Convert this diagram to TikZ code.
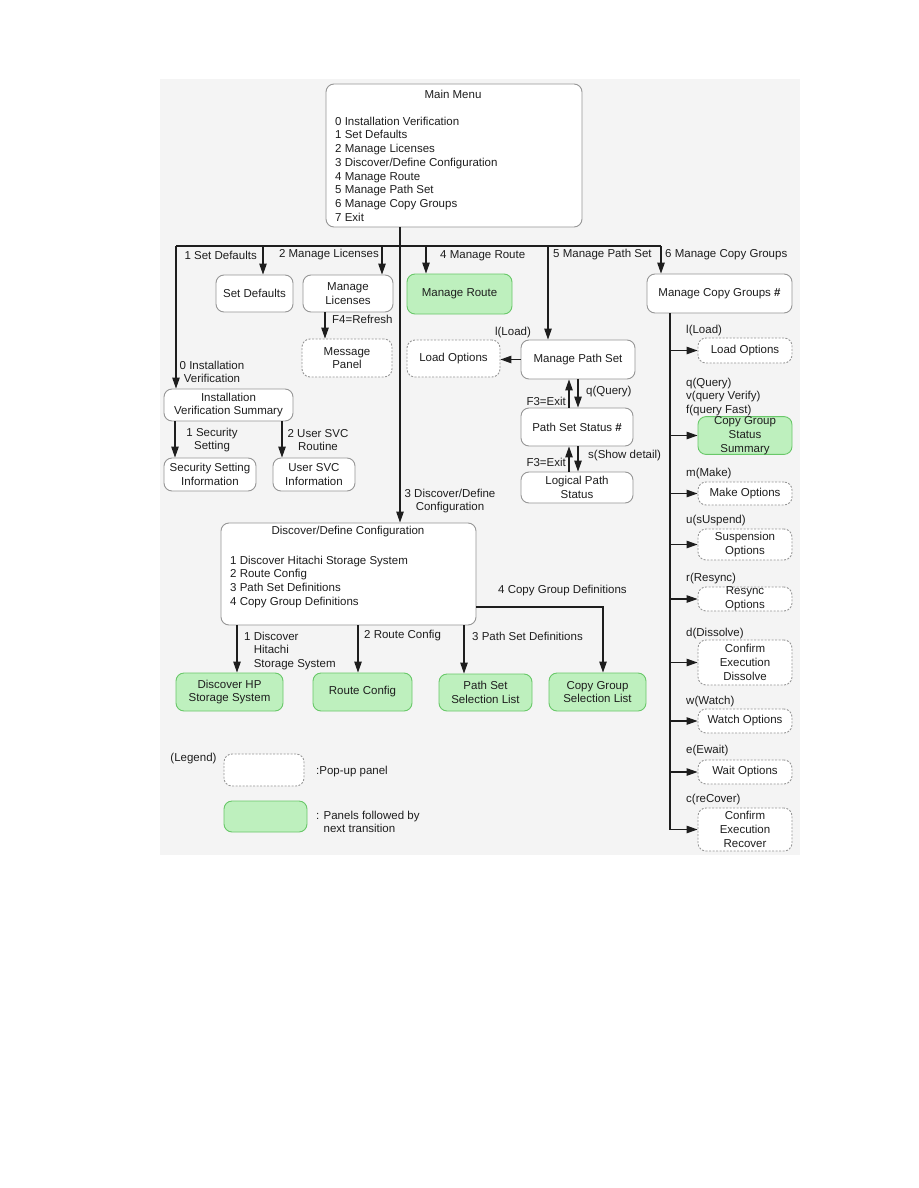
\documentclass[tikz,border=0pt]{standalone}
\usepackage{fontspec}
\setmainfont{Liberation Sans}
\usetikzlibrary{arrows.meta}
\definecolor{bg}{RGB}{244,244,244}
\definecolor{gfill}{RGB}{190,240,190}
\definecolor{gdraw}{RGB}{105,200,105}
\definecolor{bdr}{RGB}{150,150,150}
\definecolor{ink}{RGB}{30,30,30}
\begin{document}
\begin{tikzpicture}[x=1pt,y=-1pt,
  every node/.style={font=\fontsize{11.5}{13.7}\selectfont, text=ink, inner sep=0pt},
  box/.style={draw=bdr, line width=0.9pt, rounded corners=8pt, fill=white, align=center},
  popbox/.style={box, dash pattern=on 2pt off 1.5pt},
  gbox/.style={box, draw=gdraw, fill=gfill},
  arr/.style={draw=ink, line width=1.1pt, -{Triangle[length=11pt,width=7.5pt]}},
  ln/.style={draw=ink, line width=1.1pt},
  lbl/.style={align=center},
  rbox/.style={minimum width=94pt},
]
\useasboundingbox (0,0) rectangle (918,1188);
\fill[bg] (160,79) rectangle (800,855);

% ---- boxes ----
\node[box, minimum width=256pt, minimum height=143pt] (main) at (454,155.5) {};
\node (mainT) at (453,94) {Main Menu};
\node[anchor=north west, align=left] (mainL) at (335,116.7) {0 Installation Verification\\1 Set Defaults\\2 Manage Licenses\\3 Discover/Define Configuration\\4 Manage Route\\5 Manage Path Set\\6 Manage Copy Groups\\7 Exit};

\node[box, minimum width=77pt, minimum height=37pt] (setdef) at (254.5,293.5) {Set Defaults};
\node[box, minimum width=90pt, minimum height=37pt] (lic) at (348,293.5) {Manage\\Licenses};
\node[gbox, minimum width=105pt, minimum height=40pt] (route) at (459.5,294) {Manage Route};
\node[box, minimum width=145pt, minimum height=39pt] (mcg) at (719.5,293.5) {Manage Copy Groups \textbf{\#}};
\node[popbox, minimum width=90pt, minimum height=38pt] (msgp) at (347,358) {Message\\Panel};
\node[popbox, minimum width=93pt, minimum height=37pt] (lo1) at (453.5,358.5) {Load Options};
\node[box, minimum width=114pt, minimum height=39pt] (mps) at (578,359.5) {Manage Path Set};
\node[box, minimum width=129pt, minimum height=32pt] (ivs) at (228.5,405) {Installation\\Verification Summary};
\node[box, minimum width=112pt, minimum height=38pt] (pss) at (577,427) {Path Set Status \textbf{\#}};
\node[box, minimum width=112pt, minimum height=31pt] (lps) at (577,487.5) {Logical Path\\Status};
\node[box, minimum width=92pt, minimum height=33pt] (ssi) at (210,474.5) {Security Setting\\Information};
\node[box, minimum width=82pt, minimum height=33pt] (usi) at (314,474.5) {User SVC\\Information};

\node[box, minimum width=255pt, minimum height=102pt] (disc) at (348.5,574) {};
\node (discT) at (348,532) {Discover/Define Configuration};
\node[anchor=north west, align=left] (discL) at (230,555.7) {1 Discover Hitachi Storage System\\2 Route Config\\3 Path Set Definitions\\4 Copy Group Definitions};

\node[gbox, minimum width=107pt, minimum height=38pt] (dhp) at (229.5,692) {Discover HP\\Storage System};
\node[gbox, minimum width=99pt, minimum height=38pt] (rcfg) at (362.5,692) {Route Config};
\node[gbox, minimum width=93pt, minimum height=37pt] (pssl) at (485.5,692.5) {Path Set\\Selection List};
\node[gbox, minimum width=97pt, minimum height=38pt] (cgsl) at (597.5,692) {Copy Group\\Selection List};

% right column
\node[popbox, rbox, minimum height=25pt] (lo2) at (745,350.5) {Load Options};
\node[gbox, rbox, minimum height=37pt] (cgss) at (745,435.5) {Copy Group\\Status\\Summary};
\node[popbox, rbox, minimum height=23pt] (mko) at (745,493.5) {Make Options};
\node[popbox, rbox, minimum height=31pt] (suo) at (745,544.5) {Suspension\\Options};
\node[popbox, rbox, minimum height=24pt] (reo) at (745,599) {Resync\\Options};
\node[popbox, rbox, minimum height=45pt] (cod) at (745,662.5) {Confirm\\Execution\\Dissolve};
\node[popbox, rbox, minimum height=24pt] (wao) at (745,721) {Watch Options};
\node[popbox, rbox, minimum height=24pt] (wto) at (745,772) {Wait Options};
\node[popbox, rbox, minimum height=43pt] (cor) at (745,829.5) {Confirm\\Execution\\Recover};

% legend
\node (legT) at (193.5,759) {(Legend)};
\node[popbox, minimum width=80pt, minimum height=32pt] (leg1) at (264,770) {};
\node[anchor=west] (leg1T) at (316,772) {:Pop-up panel};
\node[gbox, minimum width=83pt, minimum height=31pt] (leg2) at (265.5,816.5) {};
\node[anchor=north west, align=left] (leg2T) at (316,810.7) {: Panels followed by\\\phantom{: }next transition};

% ---- coordinates ----
\coordinate (busL) at (176,246);
\coordinate (busM) at (400,246);
\coordinate (busR) at (661,246);
\coordinate (b1) at (263,246);
\coordinate (b2) at (382,246);
\coordinate (b4) at (426,246);
\coordinate (b5) at (548,246);
\coordinate (fx) at (325,0);
\coordinate (ix1) at (175,0);
\coordinate (ix2) at (282,0);
\coordinate (ux) at (569,0);
\coordinate (dx) at (578,0);
\coordinate (c1) at (237,0);
\coordinate (c2) at (358,0);
\coordinate (c3) at (464,0);
\coordinate (c4x) at (603,0);
\coordinate (c4y) at (0,607);
\coordinate (rcx) at (670,0);

% ---- connectors ----
\draw[ln] (busL) -- (busR);
\draw[arr] (main.south -| busM) -- (disc.north -| busM);
\draw[arr] (busL) -- (busL |- ivs.north);
\draw[arr] (b1) -- (b1 |- setdef.north);
\draw[arr] (b2) -- (b2 |- lic.north);
\draw[arr] (b4) -- (b4 |- route.north);
\draw[arr] (b5) -- (b5 |- mps.north);
\draw[arr] (busR) -- (busR |- mcg.north);
\draw[arr] (fx |- lic.south) -- (fx |- msgp.north);
\draw[arr] (mps.west) -- (mps.west -| lo1.east);
\draw[arr] (ux |- pss.north) -- (ux |- mps.south);
\draw[arr] (dx |- mps.south) -- (dx |- pss.north);
\draw[arr] (ux |- lps.north) -- (ux |- pss.south);
\draw[arr] (dx |- pss.south) -- (dx |- lps.north);
\draw[arr] (ix1 |- ivs.south) -- (ix1 |- ssi.north);
\draw[arr] (ix2 |- ivs.south) -- (ix2 |- usi.north);
\draw[arr] (c1 |- disc.south) -- (c1 |- dhp.north);
\draw[arr] (c2 |- disc.south) -- (c2 |- rcfg.north);
\draw[arr] (c3 |- disc.south) -- (c3 |- pssl.north);
\draw[arr] (disc.east |- c4y) -- (c4x |- c4y) -- (c4x |- cgsl.north);

\draw[arr] (rcx |- mcg.south) -- (rcx |- cor.west) -- (cor.west);
\foreach \n in {lo2,cgss,mko,suo,reo,cod,wao,wto}
  \draw[arr] (rcx |- \n.west) -- (\n.west);

% ---- labels ----
\node[anchor=east] (l1) at (257,255) {1 Set Defaults};
\node[anchor=east] (l2) at (379,255) {2 Manage Licenses};
\node[anchor=west] (l4) at (440,256) {4 Manage Route};
\node[anchor=west] (l5) at (553,255) {5 Manage Path Set};
\node[anchor=west] (l6) at (665,255) {6 Manage Copy Groups};
\node[anchor=west] (lf4) at (332,319) {F4=Refresh};
\node (lload1) at (513,333) {l(Load)};
\node[lbl] (l0) at (212,372) {0 Installation\\Verification};
\node[lbl] (lsec) at (212,440) {1 Security\\Setting};
\node[lbl] (lusr) at (318,440) {2 User SVC\\Routine};
\node[anchor=west] (lq) at (586,392) {q(Query)};
\node[anchor=east] (lf3a) at (566,401) {F3=Exit};
\node[anchor=west] (ls) at (588,456) {s(Show detail)};
\node[anchor=east] (lf3b) at (566,462) {F3=Exit};
\node[lbl] (l3) at (450,501) {3 Discover/Define\\Configuration};
\node[anchor=west] (lcg) at (498,591) {4 Copy Group Definitions};
\node[anchor=north west, align=left] (ld1) at (244,631.7) {1 Discover\\\phantom{1 }Hitachi\\\phantom{1 }Storage System};
\node[anchor=west] (ld2) at (364,636) {2 Route Config};
\node[anchor=west] (ld3) at (472,636) {3 Path Set Definitions};

\node[anchor=west] (rl1) at (686,331) {l(Load)};
\node[anchor=north west, align=left] (rl2) at (686,377.7) {q(Query)\\v(query Verify)\\f(query Fast)};
\node[anchor=west] (rl3) at (686,474) {m(Make)};
\node[anchor=west] (rl4) at (686,521) {u(sUspend)};
\node[anchor=west] (rl5) at (686,579) {r(Resync)};
\node[anchor=west] (rl6) at (686,634) {d(Dissolve)};
\node[anchor=west] (rl7) at (686,702) {w(Watch)};
\node[anchor=west] (rl8) at (686,751) {e(Ewait)};
\node[anchor=west] (rl9) at (686,800) {c(reCover)};
\end{tikzpicture}
\end{document}
